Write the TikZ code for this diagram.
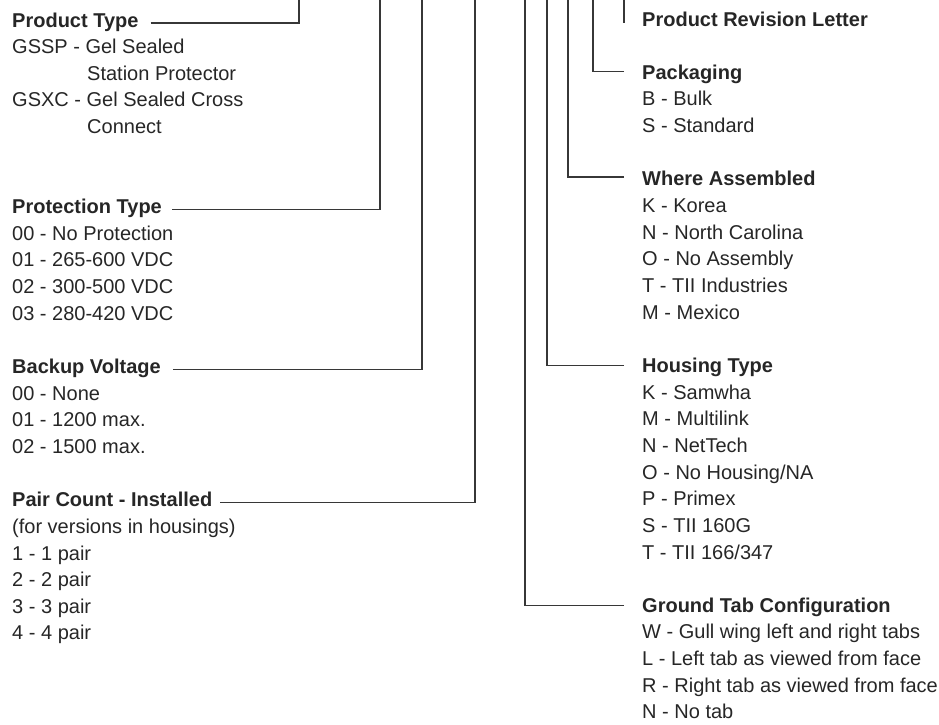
\documentclass[tikz,border=0pt]{standalone}
\usepackage{fontspec}
\setmainfont{Liberation Sans}
\usepackage{xcolor}
\usepackage{tikz}
\usetikzlibrary{calc}
\definecolor{inkgray}{RGB}{38,38,38}
\definecolor{leadgray}{RGB}{55,55,55}

\begin{document}
\begin{tikzpicture}[x=1pt, y=-1pt,
  every node/.style={inner sep=0pt, anchor=base west, text=inkgray},
  heading/.style={font=\fontsize{20}{24}\selectfont\bfseries},
  entry/.style={font=\fontsize{20}{24}\selectfont},
  leader/.style={draw=leadgray, line width=1.2pt}]
  \useasboundingbox (0,0) rectangle (939,724);

  % tops of the leader lines
  \coordinate (top1) at (299,0);
  \coordinate (top2) at (380,0);
  \coordinate (top3) at (422,0);
  \coordinate (top4) at (475,0);
  \coordinate (top5) at (525,0);
  \coordinate (top6) at (547,0);
  \coordinate (top7) at (568,0);
  \coordinate (top8) at (593,0);
  \coordinate (top9) at (624,0);

  % left column
  \node[heading] (ptype) at (12,27) {Product Type};
  \foreach \t [count=\i] in {GSSP - Gel Sealed, \hspace*{75pt}Station Protector,
      GSXC - Gel Sealed Cross, \hspace*{75pt}Connect}
    \node[entry] (ptype-\i) at (12,{27+26.65*\i}) {\t};

  \node[heading] (prot) at (12,{27+26.65*7}) {Protection Type};
  \foreach \t [count=\i] in {00 - No Protection, 01 - 265-600 VDC,
      02 - 300-500 VDC, 03 - 280-420 VDC}
    \node[entry] (prot-\i) at (12,{27+26.65*(7+\i)}) {\t};

  \node[heading] (backup) at (12,{27+26.65*13}) {Backup Voltage};
  \foreach \t [count=\i] in {00 - None, 01 - 1200 max., 02 - 1500 max.}
    \node[entry] (backup-\i) at (12,{27+26.65*(13+\i)}) {\t};

  \node[heading] (pairs) at (12,{27+26.65*18}) {Pair Count - Installed};
  \foreach \t [count=\i] in {(for versions in housings), 1 - 1 pair,
      2 - 2 pair, 3 - 3 pair, 4 - 4 pair}
    \node[entry] (pairs-\i) at (12,{27+26.65*(18+\i)}) {\t};

  % right column
  \node[heading] (rev) at (642,26) {Product Revision Letter};

  \node[heading] (pack) at (642,{26+26.65*2}) {Packaging};
  \foreach \t [count=\i] in {B - Bulk, S - Standard}
    \node[entry] (pack-\i) at (642,{26+26.65*(2+\i)}) {\t};

  \node[heading] (where) at (642,{26+26.65*6}) {Where Assembled};
  \foreach \t [count=\i] in {K - Korea, N - North Carolina, O - No Assembly,
      T - TII Industries, M - Mexico}
    \node[entry] (where-\i) at (642,{26+26.65*(6+\i)}) {\t};

  \node[heading] (house) at (642,{26+26.65*13}) {Housing Type};
  \foreach \t [count=\i] in {K - Samwha, M - Multilink, N - NetTech,
      O - No Housing/NA, P - Primex, S - TII 160G, T - TII 166/347}
    \node[entry] (house-\i) at (642,{26+26.65*(13+\i)}) {\t};

  \node[heading] (ground) at (642,{26+26.65*22}) {Ground Tab Configuration};
  \foreach \t [count=\i] in {W - Gull wing left and right tabs,
      L - Left tab as viewed from face, R - Right tab as viewed from face,
      N - No tab}
    \node[entry] (ground-\i) at (642,{26+26.65*(22+\i)}) {\t};

  % leader lines
  \draw[leader] ($(ptype.base east)+(12,-4)$) -| (top1);
  \draw[leader] ($(prot.base east)+(10,-4)$) -| (top2);
  \draw[leader] ($(backup.base east)+(12,-4)$) -| (top3);
  \draw[leader] ($(pairs.base east)+(8,-4)$) -| (top4);
  \draw[leader] ($(ground.base west)+(-18,-7)$) -| (top5);
  \draw[leader] ($(house.base west)+(-18,-7)$) -| (top6);
  \draw[leader] ($(where.base west)+(-18,-9)$) -| (top7);
  \draw[leader] ($(pack.base west)+(-18,-8)$) -| (top8);
  \draw[leader] (top9) -- ($(top9 |- rev.base)+(0,-3)$);
\end{tikzpicture}
\end{document}
